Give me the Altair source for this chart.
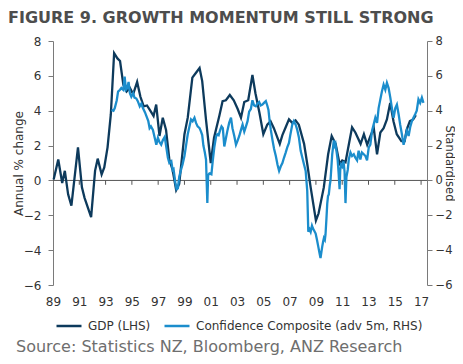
import altair as alt
import pandas as pd

# ---- data ----
gdp_t = [1989.05, 1989.4, 1989.7, 1989.9, 1990.15, 1990.4, 1990.9, 1991.2, 1991.4, 1991.9,
         1992.2, 1992.4, 1992.7, 1992.9, 1993.15, 1993.4, 1993.65, 1993.9, 1994.1, 1994.35,
         1994.6, 1994.85, 1995.1, 1995.4, 1995.65, 1995.9, 1996.15, 1996.4, 1996.65, 1996.85,
         1997.1, 1997.35, 1997.6, 1997.85, 1998.1, 1998.37, 1998.6, 1999.0, 1999.25, 1999.6,
         1999.85, 2000.15, 2000.35, 2000.65, 2001.0, 2001.25, 2001.65, 2001.9, 2002.15, 2002.45,
         2002.75, 2003.05, 2003.3, 2003.55, 2003.85, 2004.17, 2004.4, 2004.7, 2005.0, 2005.3,
         2005.55, 2005.8, 2006.25, 2006.45, 2006.7, 2006.95, 2007.2, 2007.45, 2007.7, 2008.1,
         2008.35, 2008.6, 2009.0, 2009.2, 2009.6, 2009.93, 2010.2, 2010.5, 2010.8, 2011.0,
         2011.25, 2011.5, 2011.75, 2012.0, 2012.4, 2012.65, 2012.9, 2013.15, 2013.4, 2013.65,
         2013.9, 2014.15, 2014.4, 2014.65, 2014.9, 2015.15, 2015.5, 2015.75, 2015.9, 2016.15,
         2016.4, 2016.6]
gdp_v = [0.05, 1.2, -0.15, 0.55, -0.8, -1.45, 1.9, -0.4, -1.0, -2.1,
         0.55, 1.25, 0.35, 0.75, 1.9, 3.8, 7.3, 7.0, 6.85, 5.5,
         5.1, 5.3, 4.95, 5.65, 4.8, 4.25, 4.3, 4.0, 3.7, 4.35,
         2.55, 3.6, 2.9, 1.2, 0.6, -0.55, -0.2, 2.65, 3.6, 5.9,
         6.15, 6.45, 5.7, 3.4, 1.0, 2.45, 3.7, 4.55, 4.6, 4.9,
         4.6, 4.1, 3.6, 4.5, 4.6, 6.05, 5.0, 3.9, 2.65, 3.2,
         3.4, 3.0, 2.1, 2.6, 3.05, 3.5, 3.3, 3.45, 3.2, 2.1,
         0.9, -0.4, -2.3, -1.9, -0.4, 1.5, 2.55, 2.1, 0.95, 1.15,
         1.05, 2.05, 3.05, 2.75, 2.1, 2.65, 2.05, 2.55, 3.0, 1.5,
         2.75, 3.0, 3.5, 4.45, 3.4, 2.65, 2.25, 2.25, 2.9, 3.4,
         3.5, 3.75]

conf_t = [1993.45, 1993.6, 1993.7, 1993.85, 1993.95, 1994.1, 1994.2, 1994.35, 1994.45, 1994.55,
          1994.65, 1994.75, 1994.85, 1994.96, 1995.1, 1995.2, 1995.34, 1995.45, 1995.6, 1995.72,
          1995.84, 1996.0, 1996.1, 1996.25, 1996.35, 1996.45, 1996.6, 1996.75, 1996.86, 1996.98,
          1997.1, 1997.23, 1997.35, 1997.5, 1997.62, 1997.74, 1997.85, 1998.0, 1998.1, 1998.17,
          1998.3, 1998.4, 1998.5, 1998.6, 1998.75, 1998.85, 1999.0, 1999.12, 1999.25, 1999.38,
          1999.5, 1999.62, 1999.76, 1999.88, 2000.0, 2000.15, 2000.26, 2000.35, 2000.44, 2000.55,
          2000.64, 2000.7, 2000.74, 2000.8, 2000.9, 2001.05, 2001.15, 2001.27, 2001.4, 2001.5,
          2001.6, 2001.72, 2001.82, 2001.92, 2002.03, 2002.15, 2002.28, 2002.4, 2002.54, 2002.65,
          2002.79, 2002.92, 2003.05, 2003.17, 2003.3, 2003.42, 2003.55, 2003.68, 2003.8, 2003.92,
          2004.05, 2004.17, 2004.3, 2004.43, 2004.55, 2004.68, 2004.8, 2004.93, 2005.05, 2005.19,
          2005.3, 2005.39, 2005.48, 2005.57, 2005.7, 2005.82, 2005.95, 2006.08, 2006.2, 2006.32,
          2006.45, 2006.57, 2006.7, 2006.82, 2006.95, 2007.05, 2007.2, 2007.32, 2007.46, 2007.58,
          2007.71, 2007.84, 2007.97, 2008.1, 2008.22, 2008.34, 2008.42, 2008.52, 2008.6, 2008.7,
          2008.77, 2008.88, 2008.98, 2009.08, 2009.18, 2009.28, 2009.35, 2009.42, 2009.48, 2009.55,
          2009.61, 2009.68, 2009.73, 2009.8, 2009.86, 2009.92, 2009.98, 2010.05, 2010.11, 2010.18,
          2010.24, 2010.3, 2010.36, 2010.43, 2010.49, 2010.58, 2010.65, 2010.72, 2010.8, 2010.85,
          2010.92, 2011.0, 2011.1, 2011.18, 2011.25, 2011.32, 2011.42, 2011.5, 2011.63, 2011.75,
          2011.88, 2012.0, 2012.13, 2012.25, 2012.38, 2012.5, 2012.64, 2012.77, 2012.89, 2013.02,
          2013.14, 2013.27, 2013.39, 2013.52, 2013.65, 2013.77, 2013.9, 2014.02, 2014.15, 2014.28,
          2014.4, 2014.53, 2014.66, 2014.78, 2014.91, 2015.04, 2015.16, 2015.29, 2015.41, 2015.54,
          2015.67, 2015.79, 2015.92, 2016.05, 2016.17, 2016.3, 2016.42, 2016.55, 2016.67, 2016.8,
          2016.93, 2017.06, 2017.18]
conf_v = [4.05, 4.0, 4.15, 4.6, 5.1, 5.2, 5.3, 5.2, 5.95, 5.2,
          5.3, 5.65, 5.0, 4.8, 5.0, 4.75, 4.7, 4.55, 4.25, 4.4,
          4.15, 3.9, 3.7, 3.4, 3.0, 3.1, 2.9, 2.4, 2.05, 2.45,
          2.2, 2.05, 2.3, 2.5, 1.9, 1.3, 1.0, 1.1, 0.6, 0.65,
          -0.1, -0.5, -0.45, 0.2, 0.65, 0.9, 1.4, 2.0, 2.65, 3.1,
          3.5, 3.4, 3.6, 3.3, 3.1, 3.0, 2.8, 2.6, 2.0, 1.6,
          1.2, -0.3, -1.3, 0.3, 0.4, 0.35, 1.1, 1.9, 2.5, 2.65,
          2.6, 2.9, 3.1, 3.0, 1.95, 2.4, 2.9, 3.3, 3.6, 3.0,
          2.55, 2.05, 2.3, 2.55, 2.9, 3.2, 2.8, 3.1, 3.4, 3.95,
          4.1, 4.6, 4.3, 4.25, 4.4, 4.5, 4.3, 4.35, 4.45, 4.55,
          4.3, 4.05, 3.4, 2.9, 2.3, 1.8, 1.4, 0.9, 0.55, 0.8,
          1.0, 1.3, 1.6, 1.9, 2.15, 2.6, 3.2, 3.4, 3.2, 2.9,
          2.45, 1.7, 1.3, 0.9, 0.55, -0.6, -2.95, -2.8, -2.95, -2.6,
          -2.75, -2.9, -3.05, -3.4, -3.8, -4.2, -4.45, -4.1, -3.8, -3.5,
          -3.3, -3.4, -3.1, -2.2, -1.35, -0.9, -0.8, -0.3, 0.0, 0.8,
          1.5, 1.9, 2.3, 2.0, 2.1, 1.6, 1.2, 0.5, -0.5, 0.6,
          0.9, 0.8, 1.1, 0.5, -1.3, 0.2, 0.6, 1.2, 1.6, 1.4,
          1.5, 1.3, 1.15, 1.7, 1.2, 1.6, 1.5, 1.4, 1.15, 1.9,
          2.05, 2.85, 3.2, 3.6, 3.3, 4.15, 4.65, 5.1, 5.5, 5.2,
          5.6, 5.3, 4.75, 4.15, 3.6, 4.15, 4.35, 3.8, 3.2, 2.65,
          2.05, 2.45, 2.85, 2.55, 3.05, 3.4, 3.6, 3.8, 4.0, 4.65,
          4.45, 4.75, 4.45]

series_names = ["GDP (LHS)", "Confidence Composite (adv 5m, RHS)"]
series_colors = ["#0d3a5c", "#1b8dcc"]
tick_years = [1989, 1991, 1993, 1995, 1997, 1999, 2001, 2003, 2005, 2007, 2009, 2011, 2013, 2015, 2017]
y_ticks = [-6, -4, -2, 0, 2, 4, 6, 8]
x_start, x_end = 1989, 2017.45
title_text = "FIGURE 9. GROWTH MOMENTUM STILL STRONG"
source_text = "Source: Statistics NZ, Bloomberg, ANZ Research"

FONT = "DejaVu Sans"
TXT = "#333333"
AX = "#7a7a7a"

gdp_df = pd.DataFrame({"t": gdp_t, "v": gdp_v, "s": series_names[0]})
conf_df = pd.DataFrame({"t": conf_t, "v": conf_v, "s": series_names[1]})
zero_df = pd.DataFrame({"t0": [x_start], "t1": [x_end], "v": [0]})
tick_df = pd.DataFrame({"t": tick_years[1:], "v0": [0] * (len(tick_years) - 1), "v1": [-0.25] * (len(tick_years) - 1)})
src_df = pd.DataFrame({"txt": [source_text]})
ttl_df = pd.DataFrame({"txt": [title_text]})

xscale = alt.Scale(domain=[x_start, x_end], nice=False, zero=False)
yscale = alt.Scale(domain=[-6, 8], nice=False, zero=False)
color = alt.Color("s:N", scale=alt.Scale(domain=series_names, range=series_colors),
                  legend=alt.Legend(title=None, orient="none", direction="horizontal",
                                    legendX=2, legendY=271, symbolType="stroke", symbolSize=625,
                                    symbolStrokeWidth=2.5, labelFont=FONT, labelFontSize=12,
                                    labelColor=TXT, columnPadding=8, labelOffset=5, padding=0,
                                    labelLimit=400))

xaxis = alt.Axis(values=tick_years, labelExpr="substring(toString(datum.value), 2)",
                 domain=False, ticks=False, grid=False, labelPadding=11, labelFont=FONT,
                 labelFontSize=12, labelColor=TXT, title=None, labelFlush=False)

left_axis = alt.Axis(values=y_ticks, orient="left", title="Annual % change", grid=False,
                     domainColor=AX, tickColor=AX, tickSize=5, labelPadding=7,
                     labelFont=FONT, labelFontSize=12, labelColor=TXT,
                     titleFont=FONT, titleFontSize=12, titleFontWeight="normal",
                     titleColor=TXT, titleX=-31, titleBaseline="alphabetic")
right_axis = alt.Axis(values=y_ticks, orient="right", title="Standardised", grid=False,
                      domainColor=AX, tickColor=AX, tickSize=5, labelPadding=3,
                      labelFont=FONT, labelFontSize=11.5, labelColor=TXT,
                      titleFont=FONT, titleFontSize=11.5, titleFontWeight="normal",
                      titleColor=TXT, titleAngle=90, titleX=18, titleBaseline="alphabetic")

zero_rule = alt.Chart(zero_df).mark_rule(color="#555555", strokeWidth=1).encode(
    x=alt.X("t0:Q", scale=xscale, axis=xaxis), x2="t1:Q",
    y=alt.Y("v:Q", scale=yscale, axis=left_axis))

ticks = alt.Chart(tick_df).mark_rule(color="#555555", strokeWidth=1).encode(
    x=alt.X("t:Q", scale=xscale, axis=xaxis),
    y=alt.Y("v0:Q", scale=yscale, axis=left_axis), y2="v1:Q")

gdp_line = alt.Chart(gdp_df).mark_line(strokeWidth=2.3).encode(
    x=alt.X("t:Q", scale=xscale, axis=xaxis),
    y=alt.Y("v:Q", scale=yscale, axis=left_axis),
    color=color)

src = alt.Chart(src_df).mark_text(align="left", baseline="alphabetic", font=FONT,
                                  fontSize=16, color="#6e6e6e").encode(
    text="txt:N", x=alt.value(-37), y=alt.value(311))

ttl = alt.Chart(ttl_df).mark_text(align="left", baseline="alphabetic", font=FONT,
                                  fontSize=16, fontWeight="bold", color="#4d4d4d").encode(
    text="txt:N", x=alt.value(-45), y=alt.value(-18))

left = alt.layer(zero_rule, ticks, gdp_line, src, ttl)

conf_line = alt.Chart(conf_df).mark_line(strokeWidth=2.3).encode(
    x=alt.X("t:Q", scale=xscale, axis=xaxis),
    y=alt.Y("v:Q", scale=yscale, axis=right_axis),
    color=color)

chart = alt.layer(left, conf_line).resolve_scale(y="independent").properties(
    width=374, height=244,
    autosize=alt.AutoSizeParams(type="none"),
    padding={"left": 45, "top": 33, "right": 28, "bottom": 71},
).configure_view(stroke=None)

chart.save("out.html", embed_options={"renderer": "svg", "actions": False})
